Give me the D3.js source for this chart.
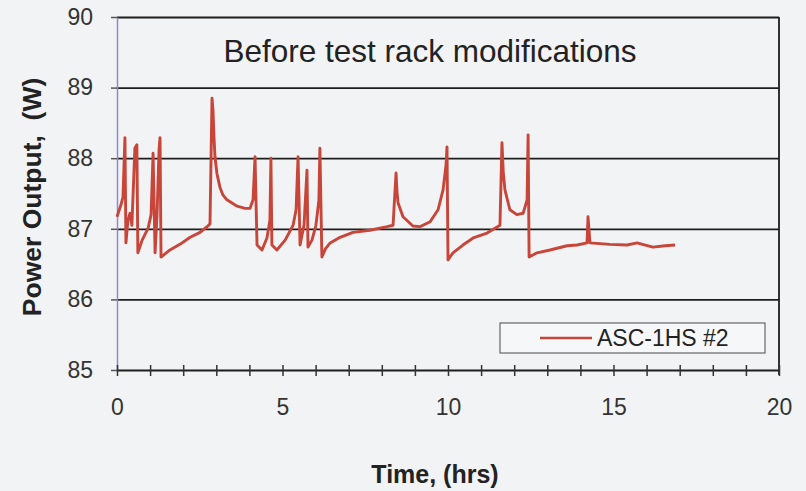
<!DOCTYPE html>
<html>
<head>
<meta charset="utf-8">
<script src="https://cdn.jsdelivr.net/npm/d3@7"></script>
<style>
  html, body { margin: 0; padding: 0; background: #f2f3f5; }
  svg { display: block; font-family: "Liberation Sans", Arial, sans-serif; }
</style>
</head>
<body>
<div id="chart"></div>
<script>
// values
const timeHrs = [0, 0.12, 0.18, 0.24, 0.27, 0.33, 0.39, 0.45, 0.54, 0.60, 0.63, 0.76, 0.94, 1.03, 1.09, 1.15, 1.21, 1.27, 1.30, 1.33,
  1.60, 1.90, 2.21, 2.51, 2.75, 2.81, 2.87, 2.90, 2.93, 2.96, 3.02, 3.11, 3.20, 3.32, 3.63, 3.87, 4.02, 4.11, 4.17, 4.23, 4.38, 4.53, 4.62, 4.65, 4.68,
  4.83, 5.08, 5.32, 5.41, 5.47, 5.53, 5.65, 5.74, 5.77, 5.89, 6.01, 6.10, 6.13, 6.19, 6.30, 6.44, 6.74, 7.13, 7.64, 8.16, 8.34, 8.43, 8.46, 8.49,
  8.64, 8.94, 9.15, 9.46, 9.70, 9.85, 9.94, 9.97, 10.0, 10.15, 10.45, 10.76, 11.18, 11.57, 11.63, 11.67, 11.72, 11.87, 12.08, 12.27, 12.39,
  12.42, 12.45, 12.69, 13.08, 13.60, 13.90, 14.20, 14.23, 14.29, 14.89, 15.41, 15.71, 16.19, 16.56, 16.86];
const powerW = [87.17, 87.34, 87.45, 88.29, 86.80, 87.12, 87.22, 87.05, 88.14, 88.19, 86.66, 86.84, 87.01, 87.20, 88.07, 86.66, 87.20, 88.12, 88.29, 86.60,
  86.70, 86.78, 86.88, 86.95, 87.04, 87.07, 88.85, 88.68, 88.30, 88.02, 87.78, 87.59, 87.48, 87.41, 87.32, 87.29, 87.29, 87.41, 88.02, 86.77, 86.70, 86.87, 87.12, 88.00, 86.77,
  86.70, 86.84, 87.05, 87.27, 88.02, 86.77, 87.05, 87.83, 86.74, 86.84, 87.05, 87.41, 88.14, 86.60, 86.72, 86.80, 86.88, 86.95, 86.98, 87.03, 87.05, 87.79, 87.52, 87.37,
  87.17, 87.04, 87.03, 87.10, 87.27, 87.55, 87.90, 88.16, 86.56, 86.66, 86.77, 86.87, 86.94, 87.05, 88.22, 87.80, 87.55, 87.27, 87.20, 87.22, 87.41,
  88.33, 86.60, 86.66, 86.70, 86.76, 86.77, 86.80, 87.17, 86.80, 86.78, 86.77, 86.80, 86.74, 86.76, 86.77];
const seriesName = "ASC-1HS #2";
const chartTitle = "Before test rack modifications";
const xTitle = "Time, (hrs)";
const yTitle = "Power Output,  (W)";
const xTicks = [0, 5, 10, 15, 20];
const xMinorTicks = d3.range(0, 21, 1);
const yTicks = [85, 86, 87, 88, 89, 90];

const W = 806, H = 491;
const plotL = 117, plotR = 779, plotT = 17, plotB = 370;

const svg = d3.select("#chart").append("svg")
  .attr("width", W)
  .attr("height", H);

const x = d3.scaleLinear().domain([0, 20]).range([plotL, plotR]);
const y = d3.scaleLinear().domain([85, 90]).range([plotB, plotT]);

// horizontal gridlines (also the top frame)
svg.append("g")
  .attr("transform", `translate(${plotL},0)`)
  .call(d3.axisLeft(y).tickValues(yTicks.slice(1)).tickSize(-(plotR - plotL)).tickFormat(""))
  .call(g => g.select(".domain").remove())
  .call(g => g.selectAll("line").attr("stroke", "#1e1e1e").attr("stroke-width", 1.8));

// right frame
svg.append("line")
  .attr("x1", plotR).attr("x2", plotR)
  .attr("y1", plotT).attr("y2", plotB + 5)
  .attr("stroke", "#1e1e1e").attr("stroke-width", 1.8);

// left axis with small outer ticks
svg.append("g")
  .attr("transform", `translate(${plotL},0)`)
  .call(d3.axisLeft(y).tickValues(yTicks).tickSize(6).tickSizeOuter(0).tickPadding(18).tickFormat(d3.format("d")))
  .call(g => g.select(".domain").attr("stroke", "#8a8ad0").attr("stroke-width", 1.5))
  .call(g => g.selectAll("line").attr("stroke", "#555").attr("stroke-width", 1.5))
  .call(g => g.selectAll("text").attr("fill", "#333").attr("font-size", 23)
    .attr("font-family", "Liberation Sans, Arial, sans-serif"));

// bottom axis: crossing minor ticks every hour
svg.append("g")
  .attr("transform", `translate(0,${plotB})`)
  .call(d3.axisBottom(x).tickValues(xMinorTicks).tickSize(6).tickSizeOuter(0).tickFormat(""))
  .call(g => g.select(".domain").attr("stroke", "#1e1e1e").attr("stroke-width", 1.8))
  .call(g => g.selectAll("line").attr("stroke", "#333").attr("stroke-width", 1.5));
svg.append("g")
  .attr("transform", `translate(0,${plotB})`)
  .call(d3.axisTop(x).tickValues(xMinorTicks).tickSize(5).tickSizeOuter(0).tickFormat(""))
  .call(g => g.select(".domain").remove())
  .call(g => g.selectAll("line").attr("stroke", "#333").attr("stroke-width", 1.5));

// bottom labels
svg.append("g")
  .attr("transform", `translate(0,${plotB})`)
  .call(d3.axisBottom(x).tickValues(xTicks).tickSize(0).tickPadding(29).tickFormat(d3.format("d")))
  .call(g => g.select(".domain").remove())
  .call(g => g.selectAll("text").attr("fill", "#333").attr("font-size", 23)
    .attr("font-family", "Liberation Sans, Arial, sans-serif"));

// data line
const line = d3.line()
  .x((d, i) => x(timeHrs[i]))
  .y(d => y(d));

svg.append("path")
  .datum(powerW)
  .attr("fill", "none")
  .attr("stroke", "#c8453a")
  .attr("stroke-width", 2.9)
  .attr("stroke-linejoin", "round")
  .attr("d", line);

// title inside the plot
svg.append("text")
  .attr("x", 430).attr("y", 62)
  .attr("text-anchor", "middle")
  .attr("font-size", 31.5)
  .attr("fill", "#222")
  .text(chartTitle);

// legend
const lg = svg.append("g");
lg.append("rect")
  .attr("x", 500).attr("y", 323).attr("width", 265).attr("height", 30)
  .attr("fill", "#f6f7f9").attr("stroke", "#666").attr("stroke-width", 1.2);
lg.append("line")
  .attr("x1", 540).attr("x2", 592).attr("y1", 338).attr("y2", 338)
  .attr("stroke", "#c8453a").attr("stroke-width", 2.6);
lg.append("text")
  .attr("x", 597).attr("y", 346)
  .attr("font-size", 23)
  .attr("fill", "#222")
  .text(seriesName);

// axis titles
svg.append("text")
  .attr("x", 435).attr("y", 483)
  .attr("text-anchor", "middle")
  .attr("font-size", 25).attr("font-weight", "bold")
  .attr("fill", "#222")
  .text(xTitle);

svg.append("text")
  .attr("transform", "translate(41,197) rotate(-90)")
  .attr("text-anchor", "middle")
  .attr("font-size", 26.5).attr("font-weight", "bold")
  .attr("fill", "#222")
  .style("white-space", "pre")
  .text(yTitle);
</script>
</body>
</html>
